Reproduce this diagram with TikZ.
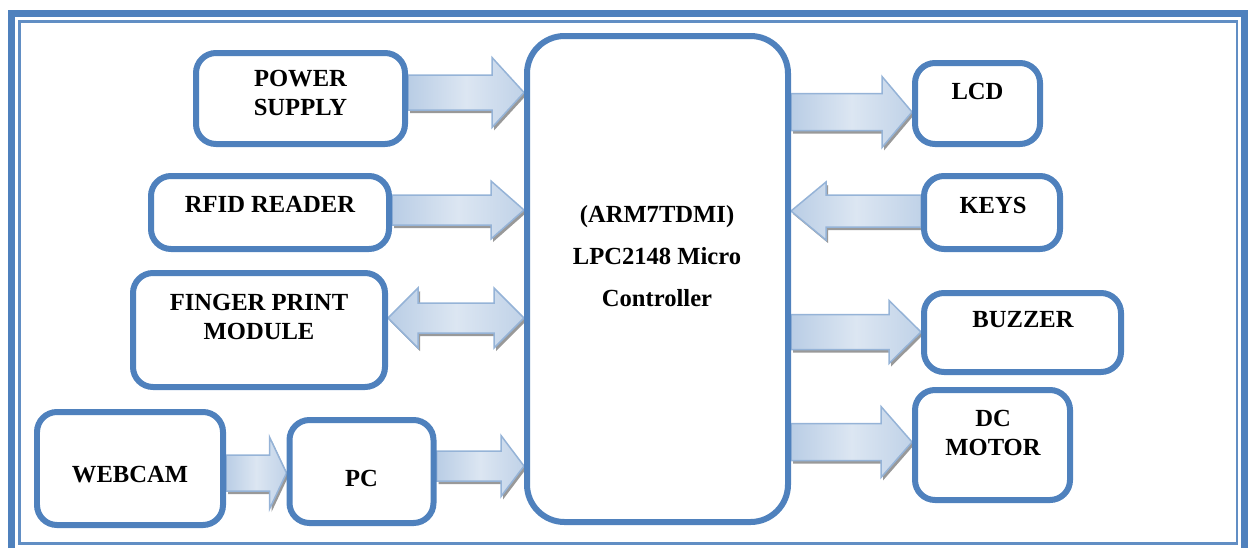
\documentclass[tikz,border=0pt]{standalone}
\usepackage{fontspec}
\setmainfont{Liberation Serif}
\usetikzlibrary{calc,backgrounds}
\definecolor{boxblue}{HTML}{4F81BD}
\definecolor{arrline}{HTML}{95B3D7}
\definecolor{arrdark}{HTML}{B9CDE5}
\definecolor{arrlight}{HTML}{DCE6F2}
\tikzset{
  box/.style 2 args={draw=boxblue, line width=0.12cm, rounded corners=0.4cm, fill=white,
    minimum width=#1*0.02cm, minimum height=#2*0.02cm, inner sep=0pt},
  lbl/.style={font=\fontsize{14}{16}\selectfont\bfseries, align=center, inner sep=0pt},
  blk/.style={draw=arrline, line width=0.03cm, left color=arrdark, right color=arrdark!80!arrlight,
    middle color=arrlight},
  blkshadow/.style={fill=black!40, transform canvas={xshift=0.04cm, yshift=-0.06cm}},
}
\newcommand\blkpath[4]{($(bt)+(0,#2)$) -- ($(bh)+({-#4*#1},#2)$) -- ($(bh)+({-#4*#1},#3)$) -- (bh)
  -- ($(bh)+({-#4*#1},-#3)$) -- ($(bh)+({-#4*#1},-#2)$) -- ($(bt)+(0,-#2)$) -- cycle}
\newcommand\blockarrow[6]{%
  \coordinate (bt) at (#1);
  \coordinate (bh) at (#2);
  \path[blkshadow] \blkpath{#3}{#4}{#5}{#6};
  \path[blk] \blkpath{#3}{#4}{#5}{#6};
}
\newcommand\dblpath[3]{(ba) -- ($(ba)+(#1,-#3)$) -- ($(ba)+(#1,-#2)$) -- ($(bb)+(-#1,-#2)$) -- ($(bb)+(-#1,-#3)$)
  -- (bb) -- ($(bb)+(-#1,#3)$) -- ($(bb)+(-#1,#2)$) -- ($(ba)+(#1,#2)$) -- ($(ba)+(#1,#3)$) -- cycle}
\newcommand\dblarrow[5]{%
  \coordinate (ba) at (#1);
  \coordinate (bb) at (#2);
  \path[blkshadow] \dblpath{#3}{#4}{#5};
  \path[blk] \dblpath{#3}{#4}{#5};
}
\begin{document}
\begin{tikzpicture}[x=0.02cm, y=-0.02cm]
\useasboundingbox (0,0) rectangle (1253,548);

\draw[boxblue, line width=0.14cm] (11.5,548) -- (11.5,13.5) -- (1244.5,13.5) -- (1244.5,548);
\draw[boxblue!90, line width=0.05cm] (19.5,21.3) rectangle (1237,543.5);

\node[box={209}{91}] (ps) at (300.5,98.5) {};
\node[box={238}{73}] (rfid) at (270,212.5) {};
\node[box={252}{114}] (fp) at (259,330) {};
\node[box={186}{113}] (cam) at (130,468.5) {};
\node[box={144}{103}] (pc) at (361.5,471.5) {};
\node[box={261}{486}, rounded corners=0.75cm] (mcu) at (657.5,279) {};
\node[box={125}{81}] (lcd) at (977.5,103.5) {};
\node[box={136}{73}] (keys) at (992,212.5) {};
\node[box={197}{79}] (buzz) at (1022.5,332.5) {};
\node[box={155}{110}] (dcm) at (992.5,445) {};

\node[lbl] (t-ps) at (300.5,93) {POWER\\SUPPLY};
\node[lbl] (t-rfid) at (270,204) {RFID READER};
\node[lbl] (t-fp) at (259,317) {FINGER PRINT\\MODULE};
\node[lbl] (t-cam) at (130,475) {WEBCAM};
\node[lbl] (t-pc) at (361.5,478) {PC};
\node[lbl, font=\fontsize{14}{24}\selectfont\bfseries] (t-mcu) at (657,256) {(ARM7TDMI)\\LPC2148 Micro\\Controller};
\node[lbl] (t-lcd) at (977.5,91) {LCD};
\node[lbl] (t-keys) at (993,205) {KEYS};
\node[lbl] (t-buzz) at (1023,320) {BUZZER};
\node[lbl] (t-dcm) at (993,433) {DC\\MOTOR};

\coordinate (y-ps) at (0,92.5);
\coordinate (y-rf) at (0,210);
\coordinate (y-fp) at (0,318);
\coordinate (y-cam) at (0,473);
\coordinate (y-pc) at (0,466);
\coordinate (y-lcd) at (0,112);
\coordinate (y-key) at (0,211);
\coordinate (y-bz) at (0,332);
\coordinate (y-dc) at (0,442);

\begin{pgfonlayer}{background}
\blockarrow{ps.east |- y-ps}{mcu.west |- y-ps}{32}{17.5}{35}{1}
\blockarrow{rfid.east |- y-rf}{mcu.west |- y-rf}{33}{15}{29}{1}
\dblarrow{fp.east |- y-fp}{mcu.west |- y-fp}{30}{15}{30}
\blockarrow{cam.east |- y-cam}{pc.west |- y-cam}{17}{18}{36}{1}
\blockarrow{pc.east |- y-pc}{mcu.west |- y-pc}{23}{15}{30.5}{1}
\blockarrow{mcu.east |- y-lcd}{lcd.west |- y-lcd}{30}{18.5}{35.5}{1}
\blockarrow{keys.west |- y-key}{mcu.east |- y-key}{35}{16}{29}{-1}
\blockarrow{mcu.east |- y-bz}{buzz.west |- y-bz}{32}{17.5}{31.5}{1}
\blockarrow{mcu.east |- y-dc}{dcm.west |- y-dc}{31}{18.5}{35.5}{1}
\end{pgfonlayer}
\end{tikzpicture}
\end{document}
